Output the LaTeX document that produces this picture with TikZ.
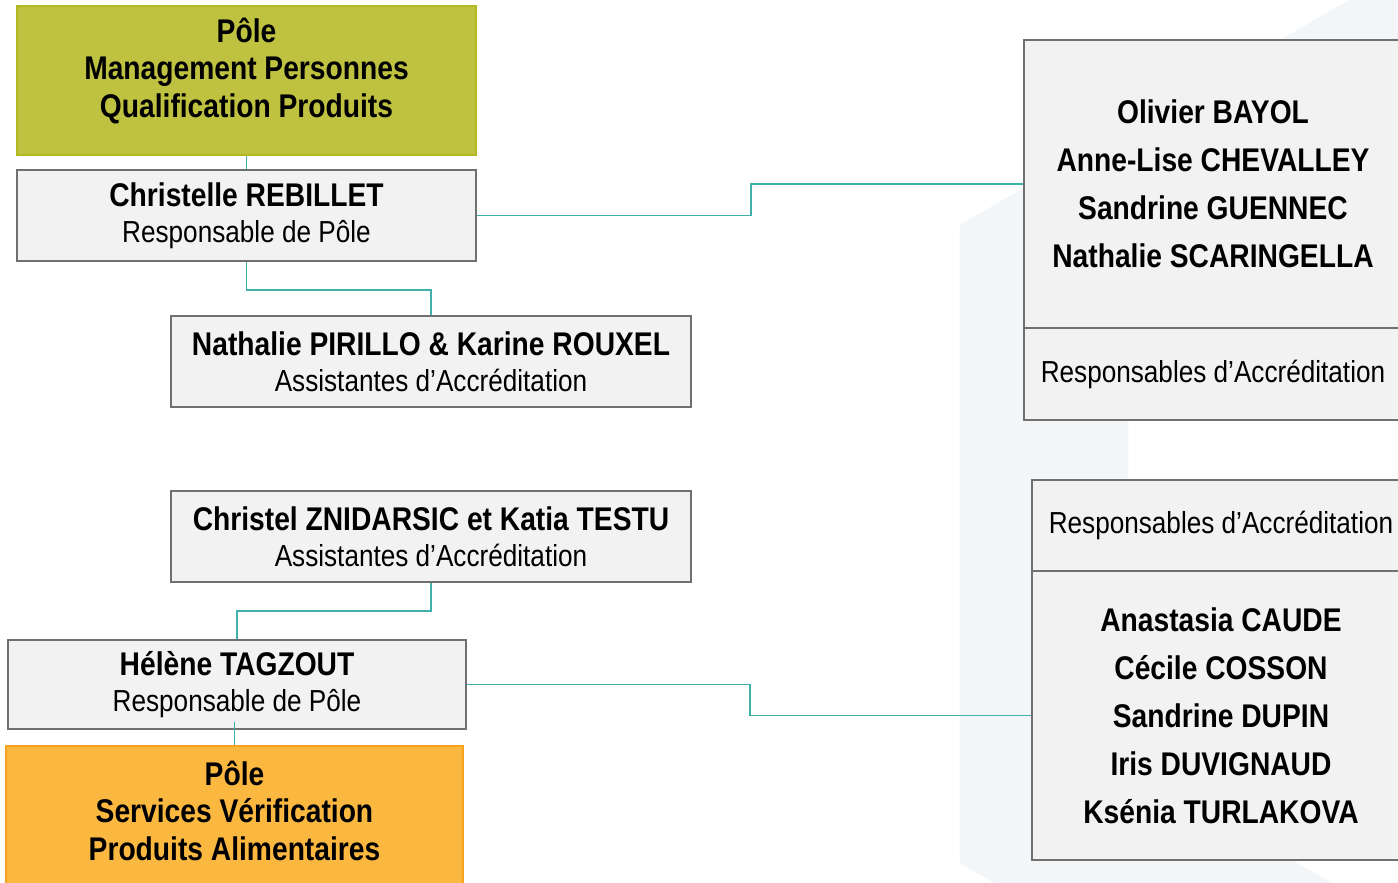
\documentclass[tikz,border=0pt]{standalone}
\usepackage{fontspec}
\setmainfont{Liberation Sans}[FakeStretch=0.86]
\usepackage{tikz}
\usetikzlibrary{positioning}
\definecolor{fondhex}{RGB}{242,246,249}
\definecolor{fondgris}{RGB}{242,242,242}
\definecolor{bordgris}{RGB}{112,112,112}
\definecolor{vertpole}{RGB}{191,193,64}
\definecolor{vertbord}{RGB}{178,184,30}
\definecolor{orangepole}{RGB}{251,184,64}
\definecolor{orangebord}{RGB}{245,162,28}
\definecolor{sarcelle}{RGB}{64,176,170}
\newcommand{\nompers}[1]{{\bfseries\fontsize{32.8}{36}\selectfont #1}}

\begin{document}
\begin{tikzpicture}[x=1pt,y=-1pt,
   boite/.style={draw=bordgris, line width=2.5pt, fill=fondgris, align=center, inner sep=0pt, node font=\fontsize{30.4}{36}\selectfont},
   noms/.style={node font=\bfseries\fontsize{32.8}{48}\selectfont},
   pole/.style={line width=2pt, inner sep=0pt},
   poletexte/.style={align=center, inner sep=0pt, node font=\bfseries\fontsize{32.8}{37.5}\selectfont},
   lien/.style={draw=sarcelle, line width=1.6pt}]
\useasboundingbox (0,0) rectangle (1398,883);
\fill[fondhex, even odd rule] (1512,-94) -- (959.5,225) -- (959.5,863) -- (1512,1182) -- (2064.5,863) -- (2064.5,225) -- cycle
   (1512,101) -- (1128.4,322.5) -- (1128.4,765.5) -- (1512,987) -- (1895.6,765.5) -- (1895.6,322.5) -- cycle;
\node[pole, fill=vertpole, draw=vertbord, minimum width=459pt, minimum height=149pt] (pmq) at (246.5,80.5) {};
\node[poletexte] (pmqtexte) at (246.5,70.5) {Pôle\\Management Personnes\\Qualification Produits};
\node[boite, minimum width=459pt, minimum height=91pt] (rebillet) at (246.5,215.5) {\nompers{Christelle REBILLET}\\Responsable de Pôle};
\node[boite, minimum width=520pt, minimum height=91pt] (pirillo) at (431,361.5) {\nompers{Nathalie PIRILLO \& Karine ROUXEL}\\Assistantes d’Accréditation};
\node[boite, minimum width=520pt, minimum height=91pt] (znidarsic) at (431,536.5) {\nompers{Christel ZNIDARSIC et Katia TESTU}\\Assistantes d’Accréditation};
\node[boite, minimum width=458pt, minimum height=89pt] (tagzout) at (237,684.5) {\nompers{Hélène TAGZOUT}\\Responsable de Pôle};
\node[pole, fill=orangepole, draw=orangebord, minimum width=457pt, minimum height=154pt] (psvpa) at (234.5,823) {};
\node[poletexte] (psvpatexte) at (234.5,810.5) {Pôle\\Services Vérification\\Produits Alimentaires};
\node[boite, noms, minimum width=378pt, minimum height=288pt] (bayol) at (1213,184) {Olivier BAYOL\\Anne-Lise CHEVALLEY\\Sandrine GUENNEC\\Nathalie SCARINGELLA};
\node[boite, minimum width=378pt, minimum height=92pt] (resp1) at (1213,374) {Responsables d’Accréditation};
\node[boite, minimum width=378pt, minimum height=91pt] (resp2) at (1221,525.5) {Responsables d’Accréditation};
\node[boite, noms, minimum width=378pt, minimum height=289pt] (caude) at (1221,715.5) {Anastasia CAUDE\\Cécile COSSON\\Sandrine DUPIN\\Iris DUVIGNAUD\\Ksénia TURLAKOVA};
\draw[lien] (pmq.south) -- (rebillet.north);
\draw[lien] (rebillet.south) -- ++(0,28) -| (pirillo.north);
\draw[lien] (rebillet.east) -- ++(274,0) |- (bayol.west);
\draw[lien] (znidarsic.south) -- ++(0,28) -| (tagzout.north);
\draw[lien] (tagzout.east) -- ++(283,0) |- (caude.west);
\draw[lien] (psvpa.north) -- ++(0,-23);
\end{tikzpicture}
\end{document}
